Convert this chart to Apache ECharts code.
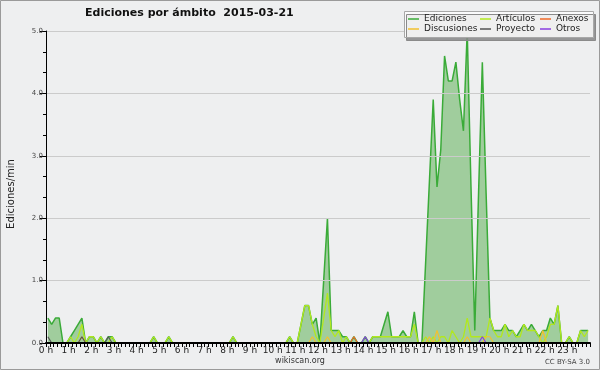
<!DOCTYPE html>
<html lang="es" style="height: 100%">
<head>
<meta charset="utf-8">
<title>Ediciones por ámbito</title>
</head>
<body style="height: 100%; margin: 0; background: #eeeff0">
<div id="container" style="width: 600px; height: 370px"></div>

<script type="text/javascript" src="https://cdn.jsdelivr.net/npm/echarts@6/dist/echarts.min.js"></script>

<script type="text/javascript">
var dom = document.getElementById('container');
var myChart = echarts.init(dom, null, { width: 600, height: 370 });

// ediciones por minuto, tramos de 10 minutos (144 tramos, 00:00 - 24:00)
var ediciones = [
    0.4, 0.3, 0.4, 0.4, 0, 0, 0.1, 0.2, 0.3, 0.4, 0, 0.1,
    0.1, 0, 0.1, 0, 0.1, 0.1, 0, 0, 0, 0, 0, 0,
    0, 0, 0, 0, 0.1, 0, 0, 0, 0.1, 0, 0, 0,
    0, 0, 0, 0, 0, 0, 0, 0, 0, 0, 0, 0,
    0, 0.1, 0, 0, 0, 0, 0, 0, 0, 0, 0, 0,
    0, 0, 0, 0, 0.1, 0, 0, 0.3, 0.6, 0.6, 0.3, 0.4,
    0, 1.0, 2.0, 0.2, 0.2, 0.2, 0.1, 0.1, 0, 0.1, 0, 0,
    0.1, 0, 0.1, 0.1, 0.1, 0.3, 0.5, 0.1, 0.1, 0.1, 0.2, 0.1,
    0.1, 0.5, 0, 0, 1.3, 2.6, 3.9, 2.5, 3.1, 4.6, 4.2, 4.2,
    4.5, 3.9, 3.4, 5.0, 2.5, 0.2, 2.4, 4.5, 2.4, 0.4, 0.2, 0.2,
    0.2, 0.3, 0.2, 0.2, 0.1, 0.2, 0.3, 0.2, 0.3, 0.2, 0.1, 0.2,
    0.2, 0.4, 0.3, 0.6, 0, 0, 0.1, 0, 0, 0.2, 0.2, 0.2
];
var articulos = [
    0, 0, 0, 0, 0, 0, 0.1, 0, 0.1, 0.3, 0, 0.1,
    0.1, 0, 0.1, 0, 0, 0.1, 0, 0, 0, 0, 0, 0,
    0, 0, 0, 0, 0.1, 0, 0, 0, 0.1, 0, 0, 0,
    0, 0, 0, 0, 0, 0, 0, 0, 0, 0, 0, 0,
    0, 0.1, 0, 0, 0, 0, 0, 0, 0, 0, 0, 0,
    0, 0, 0, 0, 0.1, 0, 0, 0.3, 0.6, 0.6, 0.3, 0.1,
    0, 0.4, 0.8, 0.2, 0.1, 0.2, 0, 0.1, 0, 0, 0, 0,
    0, 0, 0.1, 0.1, 0.1, 0.1, 0.1, 0.1, 0.1, 0.1, 0.1, 0.1,
    0.1, 0.3, 0, 0, 0.1, 0, 0.1, 0, 0.1, 0.1, 0, 0.2,
    0.1, 0, 0.1, 0.4, 0.1, 0.1, 0.1, 0.1, 0.1, 0.4, 0.2, 0.1,
    0.1, 0.3, 0.1, 0.2, 0.1, 0.1, 0.3, 0.2, 0.2, 0.2, 0.1, 0,
    0.1, 0.3, 0.3, 0.6, 0, 0, 0.1, 0, 0, 0.2, 0.1, 0.2
];
var discusiones = [
    0, 0, 0, 0, 0, 0, 0, 0, 0, 0.1, 0, 0,
    0, 0, 0, 0, 0, 0, 0, 0, 0, 0, 0, 0,
    0, 0, 0, 0, 0, 0, 0, 0, 0, 0, 0, 0,
    0, 0, 0, 0, 0, 0, 0, 0, 0, 0, 0, 0,
    0, 0, 0, 0, 0, 0, 0, 0, 0, 0, 0, 0,
    0, 0, 0, 0, 0, 0, 0, 0, 0, 0, 0.1, 0,
    0, 0, 0.1, 0, 0, 0, 0, 0, 0, 0, 0, 0,
    0, 0, 0, 0, 0, 0, 0, 0, 0, 0, 0, 0,
    0, 0, 0, 0, 0, 0.1, 0, 0.2, 0, 0, 0, 0,
    0, 0, 0, 0.1, 0, 0, 0, 0, 0.1, 0.1, 0, 0,
    0, 0, 0, 0, 0, 0, 0, 0, 0, 0, 0, 0.2,
    0, 0, 0, 0, 0, 0, 0, 0, 0, 0, 0, 0
];
var proyecto = [
    0.1, 0, 0, 0, 0, 0, 0, 0, 0, 0.1, 0, 0,
    0, 0, 0, 0, 0.1, 0, 0, 0, 0, 0, 0, 0,
    0, 0, 0, 0, 0, 0, 0, 0, 0, 0, 0, 0,
    0, 0, 0, 0, 0, 0, 0, 0, 0, 0, 0, 0,
    0, 0, 0, 0, 0, 0, 0, 0, 0, 0, 0, 0,
    0, 0, 0, 0, 0, 0, 0, 0, 0, 0, 0, 0,
    0, 0, 0, 0, 0, 0, 0, 0, 0, 0, 0, 0,
    0, 0, 0, 0, 0, 0, 0, 0, 0, 0, 0, 0,
    0, 0, 0, 0, 0, 0, 0, 0, 0, 0, 0, 0,
    0, 0, 0, 0, 0, 0, 0, 0, 0, 0, 0, 0,
    0, 0, 0, 0, 0, 0, 0, 0, 0, 0, 0, 0,
    0, 0, 0, 0, 0, 0, 0, 0, 0, 0, 0, 0
];
var anexos = [
    0, 0, 0, 0, 0, 0, 0, 0, 0, 0, 0, 0,
    0, 0, 0, 0, 0, 0, 0, 0, 0, 0, 0, 0,
    0, 0, 0, 0, 0, 0, 0, 0, 0, 0, 0, 0,
    0, 0, 0, 0, 0, 0, 0, 0, 0, 0, 0, 0,
    0, 0, 0, 0, 0, 0, 0, 0, 0, 0, 0, 0,
    0, 0, 0, 0, 0, 0, 0, 0, 0, 0, 0, 0,
    0, 0, 0, 0, 0, 0, 0, 0, 0, 0.1, 0, 0,
    0, 0, 0, 0, 0, 0, 0, 0, 0, 0, 0, 0,
    0, 0, 0, 0, 0, 0, 0, 0, 0, 0, 0, 0,
    0, 0, 0, 0, 0, 0, 0, 0, 0, 0, 0, 0,
    0, 0, 0, 0, 0, 0, 0, 0, 0, 0, 0, 0,
    0, 0, 0, 0, 0, 0, 0, 0, 0, 0, 0, 0
];
var otros = [
    0, 0, 0, 0, 0, 0, 0, 0, 0, 0, 0, 0,
    0, 0, 0, 0, 0, 0, 0, 0, 0, 0, 0, 0,
    0, 0, 0, 0, 0, 0, 0, 0, 0, 0, 0, 0,
    0, 0, 0, 0, 0, 0, 0, 0, 0, 0, 0, 0,
    0, 0, 0, 0, 0, 0, 0, 0, 0, 0, 0, 0,
    0, 0, 0, 0, 0, 0, 0, 0, 0, 0, 0, 0,
    0, 0, 0, 0, 0, 0, 0, 0, 0, 0, 0, 0,
    0.1, 0, 0, 0, 0, 0, 0, 0, 0, 0, 0, 0,
    0, 0, 0, 0, 0, 0, 0, 0, 0, 0, 0, 0,
    0, 0, 0, 0, 0, 0, 0, 0.1, 0, 0, 0, 0,
    0, 0, 0, 0, 0, 0, 0, 0, 0, 0, 0, 0,
    0, 0, 0, 0, 0, 0, 0, 0, 0, 0, 0, 0
];

var yTicks = [0, 1, 2, 3, 4, 5];
var font = 'DejaVu Sans';

// centro de cada tramo de 10 minutos, en minutos desde las 0 h
function pairs(values) {
    return values.map(function (v, i) { return [i * 10 + 5, v]; });
}

function lineSeries(name, values, color, width) {
    return {
        name: name,
        type: 'line',
        data: pairs(values),
        showSymbol: false,
        symbol: 'none',
        itemStyle: { color: color },
        lineStyle: { color: color, width: width },
        z: 3
    };
}

function legendCol(names, left) {
    return {
        data: names,
        orient: 'vertical',
        left: left,
        top: 14,
        padding: 0,
        itemGap: 0,
        itemWidth: 11,
        itemHeight: 1.5,
        icon: 'rect',
        selectedMode: false,
        z: 20,
        textStyle: { fontFamily: font, fontSize: 9, color: '#222', lineHeight: 10, padding: 0 }
    };
}

option = {
    animation: false,
    backgroundColor: '#eeeff0',
    title: {
        text: 'Ediciones por ámbito  2015-03-21',
        left: 85,
        top: 8,
        padding: 0,
        textStyle: { fontFamily: font, fontSize: 11, fontWeight: 'bold', color: '#111' }
    },
    legend: [
        legendCol(['Ediciones', 'Discusiones'], 408),
        legendCol(['Artículos', 'Proyecto'], 480),
        legendCol(['Anexos', 'Otros'], 540)
    ],
    grid: { left: 46, right: 10, top: 31, bottom: 27 },
    xAxis: {
        type: 'value',
        min: 0,
        max: 1440,
        interval: 60,
        z: 6,
        axisLine: { show: true, lineStyle: { color: '#000', width: 2 } },
        axisTick: { show: true, length: 4, lineStyle: { color: '#000' } },
        minorTick: { show: true, splitNumber: 6, length: 4, lineStyle: { color: '#000' } },
        splitLine: { show: false },
        axisLabel: {
            fontFamily: font, fontSize: 9, color: '#222', margin: 3,
            formatter: function (v) { return v >= 1440 ? '' : (v / 60) + ' h'; }
        }
    },
    yAxis: {
        type: 'value',
        min: yTicks[0],
        max: yTicks[yTicks.length - 1],
        interval: 1,
        z: 6,
        axisLine: { show: true, lineStyle: { color: '#000', width: 1 } },
        axisTick: { show: true, length: 6, lineStyle: { color: '#000' } },
        minorTick: { show: true, splitNumber: 3, length: 3, lineStyle: { color: '#000' } },
        splitLine: { show: true, lineStyle: { color: '#cbcbcb' } },
        axisLabel: {
            fontFamily: font, fontSize: 7, color: '#444', margin: 3,
            formatter: function (v) { return v.toFixed(1); }
        }
    },
    graphic: [
        {
            type: 'rect', z: 0,
            shape: { x: 0.5, y: 0.5, width: 599, height: 369 },
            style: { fill: 'none', stroke: '#9a9a9a', lineWidth: 1 }
        },
        {
            type: 'rect', z: 10,
            shape: { x: 404.5, y: 11.5, width: 189, height: 26 },
            style: {
                fill: 'rgba(252,252,252,0.88)', stroke: '#a8a8a8', lineWidth: 1,
                shadowColor: '#8a8a8a', shadowOffsetX: 2, shadowOffsetY: 3, shadowBlur: 0
            }
        },
        {
            type: 'text', z: 10, x: 11, y: 194, rotation: Math.PI / 2,
            style: {
                text: 'Ediciones/min', fontFamily: font, fontSize: 10, fill: '#222',
                textAlign: 'center', textVerticalAlign: 'middle'
            }
        },
        {
            type: 'text', z: 10, x: 300, y: 361,
            style: {
                text: 'wikiscan.org', fontFamily: font, fontSize: 8, fill: '#333',
                textAlign: 'center', textVerticalAlign: 'middle'
            }
        },
        {
            type: 'text', z: 10, x: 590, y: 362,
            style: {
                text: 'CC BY-SA 3.0', fontFamily: font, fontSize: 7, fill: '#444',
                textAlign: 'right', textVerticalAlign: 'middle'
            }
        }
    ],
    series: [
        {
            name: 'Ediciones',
            type: 'line',
            data: pairs(ediciones),
            showSymbol: false,
            symbol: 'none',
            itemStyle: { color: '#3aab38' },
            lineStyle: { color: '#3aab38', width: 1.5 },
            areaStyle: { color: '#a0cd9d', opacity: 1 },
            z: 2
        },
        lineSeries('Artículos', articulos, '#b2e81e', 1.3),
        lineSeries('Discusiones', discusiones, '#f2c12e', 1.2),
        lineSeries('Proyecto', proyecto, '#555555', 1.2),
        lineSeries('Anexos', anexos, '#f06a28', 1.2),
        lineSeries('Otros', otros, '#8a3fe0', 1.2)
    ]
};

if (option && typeof option === 'object') {
    myChart.setOption(option);
}

window.addEventListener('resize', myChart.resize);
</script>
</body>
</html>
